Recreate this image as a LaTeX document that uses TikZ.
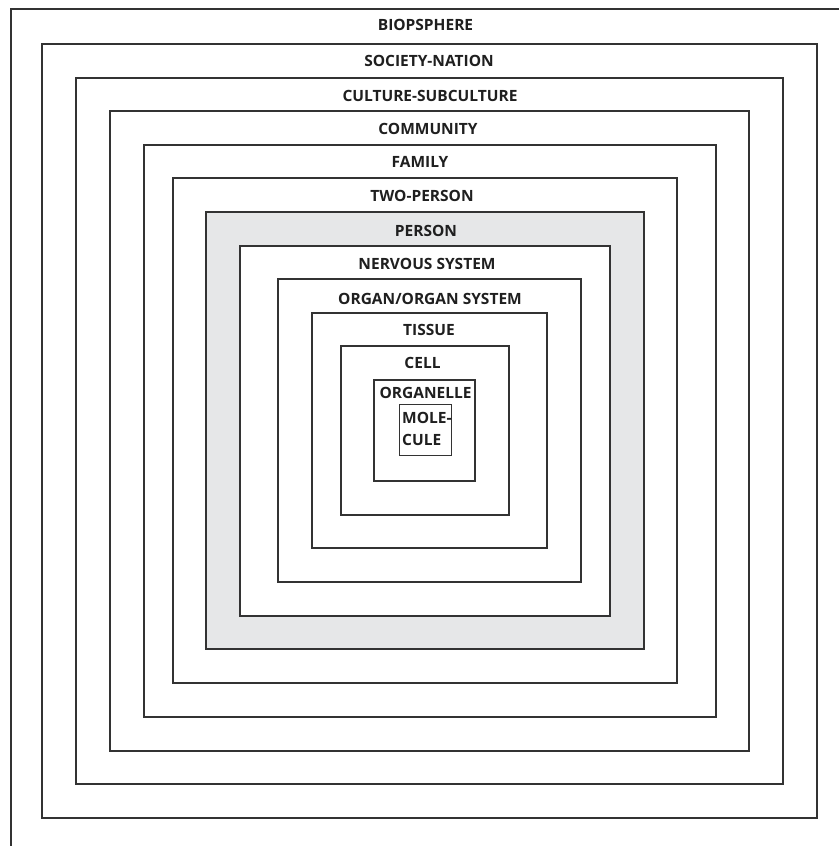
\documentclass[tikz,border=0pt]{standalone}
\usepackage{fontspec}
\setmainfont{Open Sans}
\definecolor{linegray}{RGB}{51,51,51}
\definecolor{personfill}{RGB}{230,231,232}
\tikzset{
  boxline/.style={draw=linegray, line width=1.2pt},
  innerline/.style={draw=linegray, line width=0.8pt},
  lbl/.style={font=\bfseries\fontsize{15.5}{18}\selectfont, text=black!88, inner sep=0pt, text height=11.1pt, text depth=0pt, anchor=center}
}
\begin{document}
\begin{tikzpicture}[x=1pt, y=-1pt]
\useasboundingbox (0,0) rectangle (839,846);
\fill[white] (0,0) rectangle (839,846);
% outermost frame (biosphere) runs off the page at right and bottom
\draw[boxline] (11,846) -- (11,9) -- (839,9);
\draw[boxline] (42,44) rectangle (817,818);
\draw[boxline] (76,78) rectangle (783,784);
\draw[boxline] (110,111) rectangle (749,751);
\draw[boxline] (144,145) rectangle (716,717);
\draw[boxline] (173,178) rectangle (677,683);
\draw[boxline, fill=personfill] (206,212) rectangle (644,649);
\draw[boxline, fill=white] (240,246) rectangle (610,616);
\draw[boxline] (278,279) rectangle (581,582);
\draw[boxline] (312,313) rectangle (547,548);
\draw[boxline] (341,346) rectangle (509,515);
\draw[boxline] (374,380) rectangle (475,481);
\draw[innerline] (399,404) rectangle (451,455);
% labels
\node[lbl] (t1) at (425.5,25) {BIOPSPHERE};
\node[lbl] (t2) at (429,61) {SOCIETY-NATION};
\node[lbl] (t3) at (430,95.5) {CULTURE-SUBCULTURE};
\node[lbl] (t4) at (428,129) {COMMUNITY};
\node[lbl] (t5) at (420,162) {FAMILY};
\node[lbl] (t6) at (422,196) {TWO-PERSON};
\node[lbl] (t7) at (426,230.5) {PERSON};
\node[lbl] (t8) at (427,263.5) {NERVOUS SYSTEM};
\node[lbl] (t9) at (430,299) {ORGAN/ORGAN SYSTEM};
\node[lbl] (t10) at (429,330) {TISSUE};
\node[lbl] (t11) at (422.5,363) {CELL};
\node[lbl] (t12) at (425.5,393) {ORGANELLE};
\node[lbl, anchor=west] (t13a) at (402,417.5) {MOLE-};
\node[lbl, anchor=west] (t13b) at (402,439.5) {CULE};
\end{tikzpicture}
\end{document}
